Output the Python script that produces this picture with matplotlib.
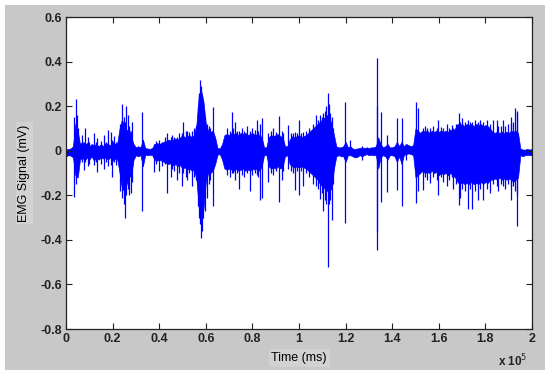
import numpy as np
import matplotlib
matplotlib.use("Agg")
import matplotlib.pyplot as plt
from matplotlib.patches import Rectangle

plt.rcParams["font.family"] = ["Liberation Sans", "DejaVu Sans"]
plt.rcParams["axes.unicode_minus"] = False

# time in units of 1e5 ms, signal in mV
# dense core of the signal, read every 0.01 (x 1e5 ms): upper and lower edge
core_t = [i / 100 for i in range(201)]
core_hi = [
    0.005, 0.008, 0.01, 0.02, 0.12, 0.09, 0.03, 0.04, 0.025, 0.035,
    0.02, 0.03, 0.025, 0.03, 0.02, 0.03, 0.02, 0.035, 0.03, 0.025,
    0.04, 0.03, 0.035, 0.10, 0.14, 0.11, 0.09, 0.10, 0.06, 0.03,
    0.015, 0.02, 0.015, 0.05, 0.012, 0.01, 0.008, 0.012, 0.03, 0.035,
    0.03, 0.035, 0.04, 0.045, 0.05, 0.045, 0.05, 0.055, 0.05, 0.06,
    0.07, 0.06, 0.065, 0.07, 0.06, 0.07, 0.12, 0.25, 0.27, 0.22,
    0.12, 0.09, 0.085, 0.09, 0.06, 0.012, 0.01, 0.03, 0.07, 0.075,
    0.07, 0.08, 0.075, 0.08, 0.07, 0.08, 0.075, 0.08, 0.07, 0.075,
    0.08, 0.07, 0.075, 0.07, 0.06, 0.015, 0.015, 0.06, 0.07, 0.065,
    0.07, 0.075, 0.065, 0.06, 0.02, 0.02, 0.05, 0.065, 0.06, 0.065,
    0.07, 0.06, 0.065, 0.07, 0.08, 0.09, 0.10, 0.11, 0.12, 0.13,
    0.14, 0.15, 0.16, 0.15, 0.12, 0.07, 0.02, 0.015, 0.015, 0.02,
    0.04, 0.015, 0.02, 0.01, 0.008, 0.01, 0.012, 0.015, 0.012, 0.015,
    0.012, 0.015, 0.015, 0.02, 0.06, 0.03, 0.015, 0.02, 0.03, 0.015,
    0.015, 0.02, 0.04, 0.02, 0.04, 0.02, 0.03, 0.025, 0.02, 0.025,
    0.10, 0.09, 0.08, 0.09, 0.085, 0.09, 0.08, 0.09, 0.085, 0.09,
    0.085, 0.09, 0.085, 0.09, 0.085, 0.095, 0.09, 0.10, 0.12, 0.115,
    0.12, 0.11, 0.12, 0.115, 0.12, 0.11, 0.12, 0.115, 0.12, 0.11,
    0.115, 0.11, 0.10, 0.085, 0.08, 0.085, 0.08, 0.085, 0.08, 0.085,
    0.08, 0.09, 0.085, 0.09, 0.08, 0.01, 0.005, 0.005, 0.008, 0.005,
    0.008]
core_lo = [
    -0.025, -0.02, -0.022, -0.03, -0.11, -0.12, -0.04, -0.03, -0.045, -0.03,
    -0.04, -0.025, -0.045, -0.03, -0.04, -0.03, -0.035, -0.03, -0.04, -0.03,
    -0.045, -0.035, -0.04, -0.10, -0.17, -0.18, -0.15, -0.12, -0.11, -0.04,
    -0.02, -0.025, -0.02, -0.07, -0.018, -0.02, -0.018, -0.02, -0.04, -0.045,
    -0.04, -0.045, -0.05, -0.055, -0.06, -0.055, -0.065, -0.06, -0.07, -0.065,
    -0.08, -0.075, -0.085, -0.08, -0.09, -0.085, -0.13, -0.26, -0.29, -0.26,
    -0.14, -0.10, -0.10, -0.09, -0.06, -0.018, -0.015, -0.04, -0.08, -0.085,
    -0.08, -0.085, -0.09, -0.08, -0.09, -0.085, -0.08, -0.09, -0.085, -0.09,
    -0.08, -0.085, -0.08, -0.09, -0.07, -0.02, -0.018, -0.07, -0.08, -0.075,
    -0.08, -0.07, -0.08, -0.07, -0.025, -0.02, -0.06, -0.07, -0.075, -0.07,
    -0.075, -0.07, -0.075, -0.08, -0.09, -0.10, -0.11, -0.12, -0.13, -0.15,
    -0.16, -0.17, -0.18, -0.18, -0.17, -0.08, -0.025, -0.02, -0.025, -0.025,
    -0.05, -0.02, -0.02, -0.025, -0.03, -0.028, -0.02, -0.025, -0.02, -0.015,
    -0.02, -0.018, -0.02, -0.02, -0.08, -0.03, -0.02, -0.025, -0.04, -0.02,
    -0.02, -0.025, -0.05, -0.025, -0.06, -0.02, -0.015, -0.012, -0.015, -0.02,
    -0.12, -0.11, -0.10, -0.09, -0.10, -0.095, -0.10, -0.09, -0.10, -0.095,
    -0.11, -0.10, -0.105, -0.10, -0.11, -0.10, -0.11, -0.12, -0.14, -0.15,
    -0.14, -0.15, -0.145, -0.15, -0.14, -0.15, -0.145, -0.15, -0.14, -0.15,
    -0.14, -0.145, -0.13, -0.13, -0.125, -0.13, -0.12, -0.13, -0.125, -0.13,
    -0.125, -0.13, -0.14, -0.13, -0.12, -0.02, -0.025, -0.02, -0.018, -0.02,
    -0.02]

# single spikes standing out of the core: time, lowest and highest value
spike_t = [
    0.036, 0.041, 0.046, 0.052, 0.07, 0.076, 0.08, 0.094, 0.10, 0.12,
    0.127, 0.135, 0.15, 0.163, 0.17, 0.18, 0.192, 0.199, 0.206, 0.213,
    0.232, 0.242, 0.248, 0.253, 0.256, 0.265, 0.272, 0.278, 0.285, 0.327,
    0.378, 0.385, 0.399, 0.41, 0.425, 0.435, 0.449, 0.457, 0.464, 0.478,
    0.485, 0.499, 0.504, 0.513, 0.521, 0.528, 0.542, 0.549, 0.556,
    0.565, 0.57, 0.575, 0.58, 0.585, 0.59, 0.597, 0.605, 0.612, 0.62, 0.632,
    0.69, 0.704, 0.711, 0.718, 0.725, 0.735, 0.744, 0.755, 0.765, 0.775,
    0.79, 0.80, 0.81, 0.818, 0.826, 0.833, 0.84,
    0.868, 0.88, 0.89, 0.90, 0.914, 0.925, 0.933,
    0.954, 0.965, 0.975, 0.983, 0.992, 1.0, 1.01, 1.018, 1.03,
    1.045, 1.061, 1.075, 1.082, 1.09, 1.097, 1.104, 1.11, 1.118, 1.123,
    1.13, 1.135, 1.14, 1.147, 1.197, 1.219, 1.27,
    1.333, 1.336, 1.352, 1.376, 1.419, 1.44, 1.46, 1.502, 1.512,
    1.534, 1.541, 1.55, 1.562, 1.575, 1.591, 1.598, 1.61, 1.62, 1.634,
    1.645, 1.655, 1.662, 1.675, 1.687, 1.691, 1.698, 1.712, 1.727, 1.735,
    1.741, 1.755, 1.77, 1.777, 1.791, 1.805, 1.82, 1.834, 1.848, 1.855,
    1.865, 1.877, 1.884, 1.895, 1.908, 1.912, 1.92, 1.927, 1.934, 1.937]
spike_lo = [
    -0.206, -0.15, -0.12, -0.10, -0.05, -0.087, -0.05, -0.07, -0.06, -0.065,
    -0.05, -0.094, -0.06, -0.08, -0.05, -0.07, -0.065, -0.117, -0.05, -0.065,
    -0.18, -0.21, -0.24, -0.30, -0.20, -0.17, -0.20, -0.19, -0.14, -0.27,
    -0.094, -0.06, -0.09, -0.07, -0.06, -0.19, -0.12, -0.08, -0.09, -0.13,
    -0.10, -0.16, -0.10, -0.12, -0.13, -0.10, -0.16, -0.12, -0.13,
    -0.25, -0.30, -0.33, -0.393, -0.36, -0.30, -0.27, -0.21, -0.15, -0.13, -0.25,
    -0.11, -0.12, -0.10, -0.10, -0.13, -0.10, -0.17, -0.11, -0.12, -0.10,
    -0.18, -0.11, -0.10, -0.11, -0.12, -0.22, -0.21,
    -0.14, -0.10, -0.11, -0.09, -0.23, -0.13, -0.09,
    -0.08, -0.09, -0.10, -0.176, -0.09, -0.20, -0.09, -0.16, -0.10,
    -0.12, -0.15, -0.16, -0.17, -0.215, -0.19, -0.27, -0.22, -0.24, -0.52,
    -0.24, -0.22, -0.31, -0.15, -0.326, -0.02, -0.04,
    -0.36, -0.445, -0.23, -0.184, -0.176, -0.25, -0.04, -0.236, -0.18,
    -0.176, -0.12, -0.13, -0.146, -0.12, -0.13, -0.20, -0.12, -0.14, -0.16,
    -0.13, -0.12, -0.17, -0.15, -0.244, -0.21, -0.17, -0.18, -0.26, -0.17,
    -0.26, -0.18, -0.22, -0.17, -0.22, -0.17, -0.19, -0.15, -0.16, -0.18,
    -0.15, -0.16, -0.17, -0.15, -0.16, -0.22, -0.16, -0.18, -0.34, -0.20]
spike_hi = [
    0.15, 0.23, 0.16, 0.10, 0.07, 0.04, 0.10, 0.06, 0.04, 0.078,
    0.04, 0.055, 0.045, 0.07, 0.04, 0.093, 0.085, 0.05, 0.065, 0.04,
    0.12, 0.21, 0.15, 0.13, 0.20, 0.16, 0.11, 0.09, 0.13, 0.175,
    0.03, 0.045, 0.05, 0.04, 0.06, 0.078, 0.06, 0.07, 0.063, 0.06,
    0.078, 0.08, 0.13, 0.09, 0.09, 0.085, 0.09, 0.10, 0.11,
    0.20, 0.26, 0.317, 0.29, 0.25, 0.21, 0.15, 0.12, 0.11, 0.10, 0.197,
    0.10, 0.09, 0.175, 0.10, 0.13, 0.09, 0.09, 0.10, 0.09, 0.11,
    0.09, 0.10, 0.095, 0.138, 0.09, 0.12, 0.145,
    0.08, 0.09, 0.10, 0.085, 0.155, 0.09, 0.08,
    0.115, 0.08, 0.08, 0.085, 0.08, 0.14, 0.08, 0.085, 0.09,
    0.10, 0.12, 0.16, 0.14, 0.16, 0.15, 0.17, 0.18, 0.20, 0.257,
    0.21, 0.17, 0.15, 0.10, 0.22, 0.05, 0.02,
    0.20, 0.414, 0.175, 0.07, 0.145, 0.145, 0.03, 0.22, 0.19,
    0.10, 0.11, 0.10, 0.10, 0.11, 0.10, 0.138, 0.105, 0.10, 0.12,
    0.10, 0.115, 0.10, 0.12, 0.168, 0.13, 0.145, 0.13, 0.14, 0.13,
    0.13, 0.14, 0.13, 0.14, 0.13, 0.14, 0.12, 0.14, 0.14, 0.11,
    0.11, 0.14, 0.11, 0.12, 0.15, 0.12, 0.13, 0.19, 0.17, 0.18]

x_ticks = [0, 0.2, 0.4, 0.6, 0.8, 1, 1.2, 1.4, 1.6, 1.8, 2]
x_labels = ["0", "0.2", "0.4", "0.6", "0.8", "1", "1.2", "1.4", "1.6", "1.8", "2"]
y_ticks = [-0.8, -0.6, -0.4, -0.2, 0, 0.2, 0.4, 0.6]
y_labels = ["-0.8", "-0.6", "-0.4", "-0.2", "0", "0.2", "0.4", "0.6"]

fig = plt.figure(figsize=(5.5, 3.77), dpi=100)
fig.patch.set_facecolor("white")
fig.patches.append(Rectangle((5 / 550, 7 / 377), 540 / 550, 365 / 377,
                             transform=fig.transFigure, facecolor="#c8c8c8",
                             edgecolor="none", zorder=-10))

ax = fig.add_axes([66 / 550, 48 / 377, 466 / 550, 312 / 377])
ax.set_facecolor("white")

ax.fill_between(core_t, core_lo, core_hi, color="#0000ff", lw=0.5)
ax.vlines(spike_t, spike_lo, spike_hi, color="#0000ff", lw=0.9)

ax.set_xlim(0, 2)
ax.set_ylim(-0.8, 0.6)
ax.set_xticks(x_ticks)
ax.set_xticklabels(x_labels)
ax.set_yticks(y_ticks)
ax.set_yticklabels(y_labels)
ax.tick_params(direction="in", length=4, width=0.8, top=True, right=True,
               labelsize=9, colors="#222222", pad=3)
for lab in ax.get_xticklabels() + ax.get_yticklabels():
    lab.set_fontweight("bold")
for s in ax.spines.values():
    s.set_linewidth(0.9)
    s.set_color("#222222")

ax.set_ylabel("EMG Signal (mV)", fontsize=9, labelpad=7,
              bbox=dict(facecolor="#d2d2d2", edgecolor="none", pad=2))
ax.set_xlabel("Time (ms)", fontsize=9, labelpad=5,
              bbox=dict(facecolor="#d2d2d2", edgecolor="none", pad=2))
fig.text(498 / 550, 1 - 361 / 377, r"x 10$^{5}$", fontsize=8.5, fontweight="bold",
         color="#222222", va="center")

fig.savefig("out.png", dpi=100)
